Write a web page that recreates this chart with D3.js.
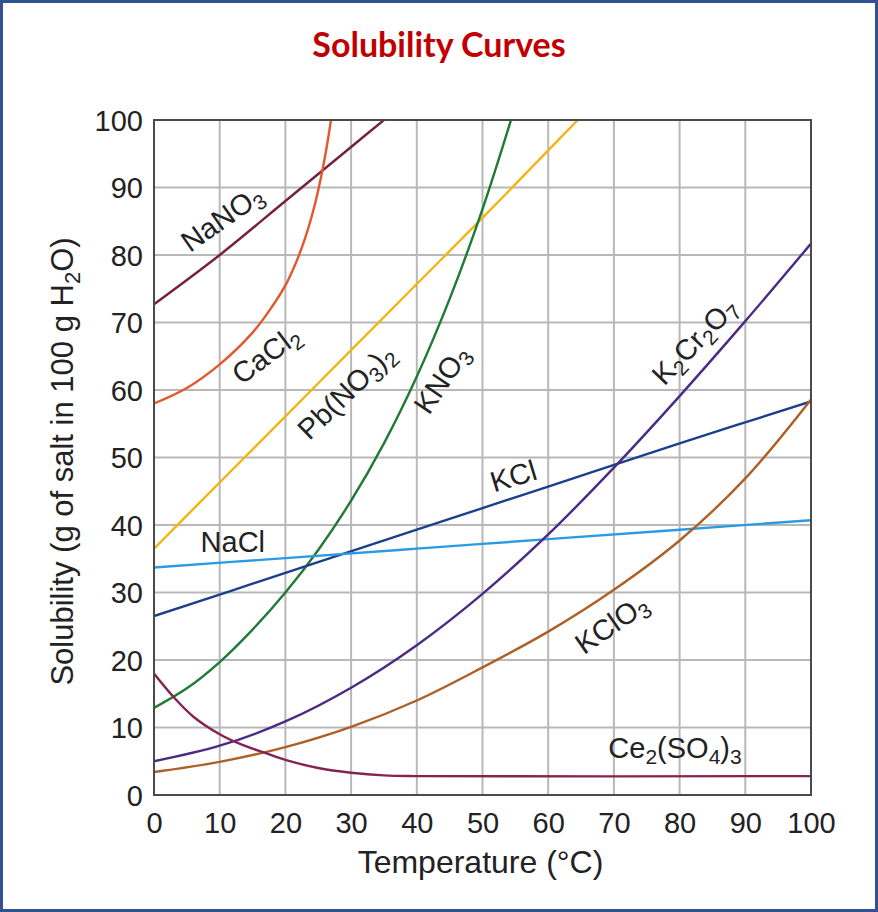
<!DOCTYPE html>
<html>
<head>
<meta charset="utf-8">
<script src="https://cdn.jsdelivr.net/npm/d3@7"></script>
<style>
  html,body{margin:0;padding:0;background:#fff;}
  svg{display:block;}
  text{font-family:"Liberation Sans",Arial,Helvetica,sans-serif;fill:#222;}
</style>
</head>
<body>
<svg id="chart" width="878" height="912"></svg>
<script>
// ---- data (temperature °C, solubility g / 100 g H2O) ----
const xTicks = [0,10,20,30,40,50,60,70,80,90,100];
const yTicks = [0,10,20,30,40,50,60,70,80,90,100];

const NaNO3   = [[0,72.7],[10,80],[20,88],[30,96],[36,100.8]];
const CaCl2   = [[0,58],[5,60.3],[10,63.8],[15,68.5],[18,72.4],[20,75.5],[21,77.5],[22,79.8],[23,82.5],[24,85.7],[25,89.6],[26,94.4],[27,100.4],[27.5,104]];
const PbNO32  = [[0,36.5],[10,46.3],[20,56.1],[30,65.9],[40,75.7],[50,85.5],[60,95.5],[65,100.5]];
const KNO3    = [[0,12.9],[5,15.8],[10,19.7],[15,24.5],[20,30],[25,36.3],[30,43.6],[35,52.1],[40,62],[45,73.5],[50,86.8],[55,102.1]];
const KCl     = [[0,26.5],[20,32.9],[40,39.3],[60,45.7],[80,52.1],[100,58.3]];
const NaCl    = [[0,33.7],[20,35.1],[40,36.5],[60,37.9],[80,39.3],[100,40.7]];
const K2Cr2O7 = [[0,5],[10,7.3],[20,10.9],[30,15.9],[40,22.2],[50,29.8],[60,38.6],[70,48.5],[80,59.1],[90,70.2],[100,81.7]];
const KClO3   = [[0,3.4],[10,4.9],[20,7.1],[30,10.1],[40,14],[50,18.9],[60,24.2],[70,30.4],[80,37.7],[90,46.9],[100,58.6]];
const Ce2SO43 = [[0,18],[3,14.5],[6,11.6],[10,9],[13,7.6],[17,6.2],[20,5.2],[25,4],[30,3.3],[35,2.9],[40,2.8],[100,2.8]];

const series = [
  {data:NaNO3,   color:"#74203f"},
  {data:CaCl2,   color:"#e4572e"},
  {data:PbNO32,  color:"#efb616"},
  {data:KNO3,    color:"#1f7a35"},
  {data:KCl,     color:"#1c3f8c"},
  {data:NaCl,    color:"#2a9be3"},
  {data:K2Cr2O7, color:"#4a2a84"},
  {data:KClO3,   color:"#ad5f27"},
  {data:Ce2SO43, color:"#86234e"}
];

// label: parts [text, isSub], anchor in data units, rotation
const labels = [
  {parts:[["NaNO",0],["3",1]], t:10.3, s:85.5, rot:-35},
  {parts:[["CaCl",0],["2",1]], t:17, s:65.3, rot:-37},
  {parts:[["Pb(NO",0],["3",1],[")",0],["2",1]], t:29.2, s:59.8, rot:-44},
  {parts:[["KNO",0],["3",1]], t:43.7, s:61.6, rot:-56},
  {parts:[["KCl",0]], t:54.7, s:47.3, rot:-17},
  {parts:[["NaCl",0]], t:12, s:37.5, rot:0},
  {parts:[["K",0],["2",1],["Cr",0],["2",1],["O",0],["7",1]], t:82.2, s:67.3, rot:-46},
  {parts:[["KClO",0],["3",1]], t:69.6, s:25.4, rot:-35},
  {parts:[["Ce",0],["2",1],["(SO",0],["4",1],[")",0],["3",1]], t:79.3, s:7.1, rot:0}
];

// ---- layout ----
const svg = d3.select("#chart");
const W = 878, H = 912;
const L = 154, R = 811, T = 120, B = 795;

const x = d3.scaleLinear().domain([0,100]).range([L,R]);
const y = d3.scaleLinear().domain([0,100]).range([B,T]);

// outer frame
svg.append("rect").attr("x",1.5).attr("y",1.5).attr("width",W-3).attr("height",H-3)
  .attr("fill","#fff").attr("stroke","#2f5192").attr("stroke-width",3);

// title
svg.append("text").attr("x",439).attr("y",57).attr("text-anchor","middle")
  .style("font-family","Lato, 'Open Sans', sans-serif").style("font-weight","bold")
  .style("font-size","34px").style("fill","#c00000").text("Solubility Curves");

// grid
const grid = svg.append("g");
grid.selectAll("line.vx").data(xTicks).join("line")
  .attr("x1",d=>x(d)).attr("x2",d=>x(d)).attr("y1",T).attr("y2",B)
  .attr("stroke","#b8b8b8").attr("stroke-width",2);
grid.selectAll("line.hy").data(yTicks).join("line")
  .attr("y1",d=>y(d)).attr("y2",d=>y(d)).attr("x1",L).attr("x2",R)
  .attr("stroke","#b8b8b8").attr("stroke-width",2);

// axes (labels only; frame drawn as rect)
const xAxis = d3.axisBottom(x).tickValues(xTicks).tickSize(0).tickPadding(17).tickFormat(d3.format("d"));
const yAxis = d3.axisLeft(y).tickValues(yTicks).tickSize(0).tickPadding(11).tickFormat(d3.format("d"));
const gx = svg.append("g").attr("transform",`translate(0,${B})`).call(xAxis);
const gy = svg.append("g").attr("transform",`translate(${L},0)`).call(yAxis);
[gx,gy].forEach(g=>{
  g.select(".domain").remove();
  g.selectAll("text").style("font-size","29px").style("fill","#222")
   .style("font-family","'Liberation Sans',Arial,sans-serif");
});
gx.selectAll("text").attr("dy","0.71em");
gy.selectAll("text").attr("dy","0.36em");

// curves
const clip = svg.append("clipPath").attr("id","plotclip");
clip.append("rect").attr("x",L).attr("y",T).attr("width",R-L).attr("height",B-T);
const line = d3.line().x(d=>x(d[0])).y(d=>y(d[1])).curve(d3.curveCatmullRom.alpha(0.5));
svg.append("g").attr("clip-path","url(#plotclip)")
  .selectAll("path").data(series).join("path")
  .attr("d",d=>line(d.data)).attr("fill","none")
  .attr("stroke",d=>d.color).attr("stroke-width",2.4).attr("stroke-linecap","round");

// plot frame
svg.append("rect").attr("x",L).attr("y",T).attr("width",R-L).attr("height",B-T)
  .attr("fill","none").attr("stroke","#4a4a4a").attr("stroke-width",2);

// curve labels
const lg = svg.append("g");
labels.forEach(lb=>{
  const t = lg.append("text")
    .attr("transform",`translate(${x(lb.t)},${y(lb.s)}) rotate(${lb.rot})`)
    .attr("text-anchor","middle").attr("dy","0.36em")
    .style("font-size","29px").style("fill","#222");
  lb.parts.forEach(p=>{
    const ts = t.append("tspan").text(p[0]);
    if(p[1]) ts.style("font-size","21px").attr("baseline-shift","-30%");
  });
});

// axis titles
svg.append("text").attr("x",(L+R)/2 - 2).attr("y",873).attr("text-anchor","middle")
  .style("font-size","32px").text("Temperature (°C)");
const yt = svg.append("text").attr("transform",`translate(73,${(T+B)/2 + 4}) rotate(-90)`)
  .attr("text-anchor","middle").style("font-size","31px");
yt.append("tspan").text("Solubility (g of salt in 100 g H");
yt.append("tspan").text("2").style("font-size","22px").attr("baseline-shift","-30%");
yt.append("tspan").text("O)");
</script>
</body>
</html>
